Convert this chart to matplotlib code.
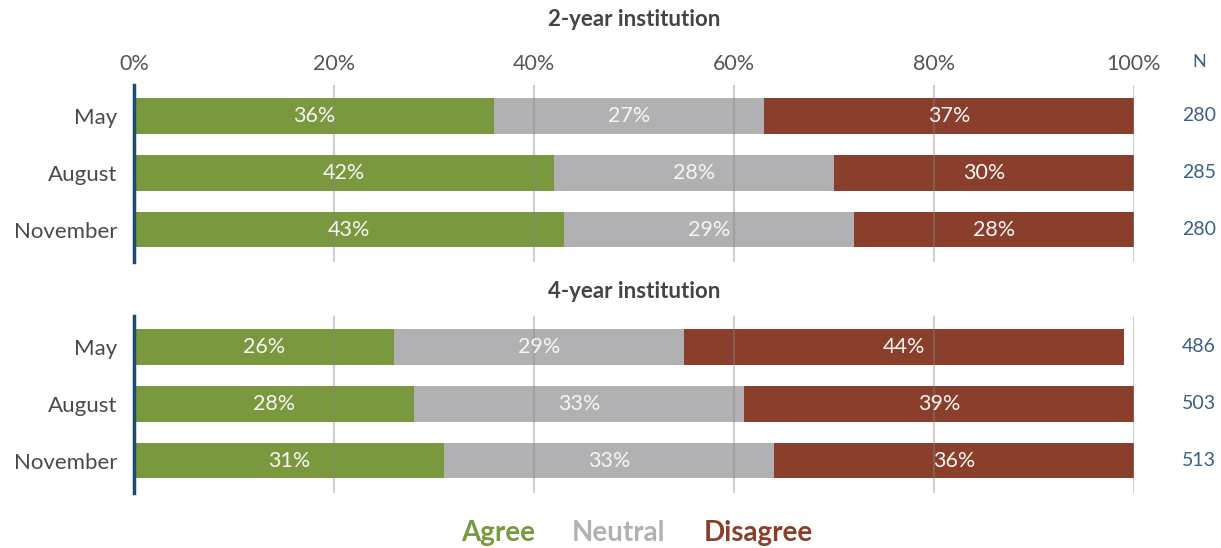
import matplotlib.pyplot as plt

plt.rcParams['font.family'] = ['Lato', 'DejaVu Sans']

months = ['May', 'August', 'November']
ticks = [0, 20, 40, 60, 80, 100]

# 2-year institution
agree_2yr = [36, 42, 43]
neutral_2yr = [27, 28, 29]
disagree_2yr = [37, 30, 28]
n_2yr = [280, 285, 280]

# 4-year institution
agree_4yr = [26, 28, 31]
neutral_4yr = [29, 33, 33]
disagree_4yr = [44, 39, 36]
n_4yr = [486, 503, 513]

colors = ['#7a983d', '#b1b1b4', '#893f2c']
legend_names = ['Agree', 'Neutral', 'Disagree']
n_color = '#3b5f86'

fig = plt.figure(figsize=(12.21, 5.48), dpi=100)
x0, x1 = 134 / 1221, 1134 / 1221
ax_top = fig.add_axes([x0, 1 - 262 / 548, x1 - x0, 177 / 548])
ax_bot = fig.add_axes([x0, 1 - 493 / 548, x1 - x0, 177 / 548])


def draw_panel(ax, agree, neutral, disagree, nvals, show_ticks):
    y = list(range(len(months)))
    left = [0] * len(months)
    for vals, c in zip([agree, neutral, disagree], colors):
        ax.barh(y, vals, left=left, height=0.63, color=c, zorder=2)
        for yi, v, l in zip(y, vals, left):
            ax.text(l + v / 2, yi, f'{v}%', ha='center', va='center',
                    fontsize=15.5, color='#f6f6f6', zorder=4)
        left = [l + v for l, v in zip(left, vals)]

    ax.set_xlim(0, 100)
    ax.set_ylim(2.57, -0.54)
    ax.set_yticks(y)
    ax.set_yticklabels(months, fontsize=16, color='#4a4a4a')
    ax.set_xticks(ticks)
    for t in ticks:
        ax.axvline(t, color='#888888', alpha=0.4, lw=1.5, zorder=3)
    if show_ticks:
        ax.xaxis.tick_top()
        ax.set_xticklabels([f'{t}%' for t in ticks], fontsize=15.5,
                           color='#555555')
    else:
        ax.set_xticklabels([])
    ax.tick_params(axis='y', length=0, pad=12)
    ax.tick_params(axis='x', length=0, pad=8)
    for s in ['top', 'right', 'bottom']:
        ax.spines[s].set_visible(False)
    ax.spines['left'].set_color('#1d4a73')
    ax.spines['left'].set_linewidth(2.5)
    ax.spines['left'].set_zorder(5)

    for yi, n in zip(y, nvals):
        ax.text(108.2, yi, str(n), ha='right', va='center', fontsize=14,
                color=n_color, clip_on=False)


draw_panel(ax_top, agree_2yr, neutral_2yr, disagree_2yr, n_2yr, True)
draw_panel(ax_bot, agree_4yr, neutral_4yr, disagree_4yr, n_4yr, False)

fig.text(1199 / 1221, 1 - 62 / 548, 'N', ha='center', va='center',
         fontsize=13, color=n_color)

fig.text(0.5 * (x0 + x1), 1 - 20 / 548, '2-year institution', ha='center',
         va='center', fontsize=16, fontweight='bold', color='#444444')
fig.text(0.5 * (x0 + x1), 1 - 292 / 548, '4-year institution', ha='center',
         va='center', fontsize=16, fontweight='bold', color='#444444')

# colored-word legend
legend_x = [498, 619, 758]
for name, c, lx in zip(legend_names, colors, legend_x):
    fig.text(lx / 1221, 1 - 533 / 548, name, ha='center', va='center',
             fontsize=20, fontweight='bold', color=c)

fig.savefig('out.png', dpi=100)
